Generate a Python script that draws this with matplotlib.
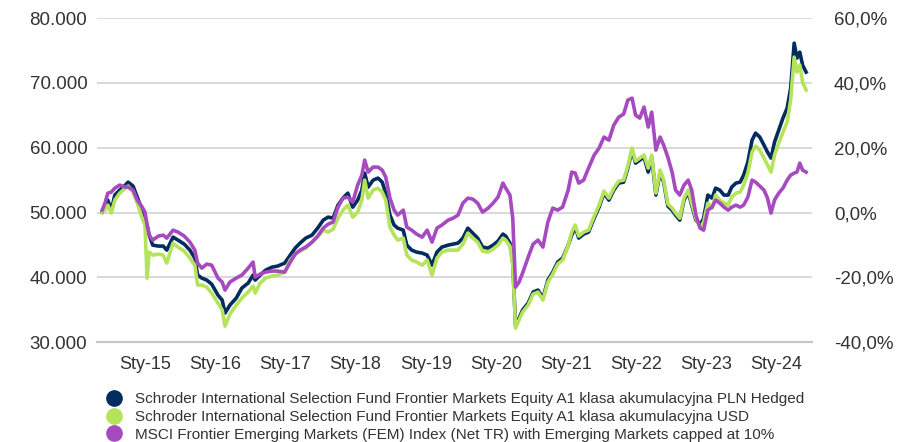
#!/usr/bin/env python3
# -*- coding: utf-8 -*-

import matplotlib
matplotlib.use("Agg")
import matplotlib.pyplot as plt
from matplotlib.lines import Line2D
from matplotlib.ticker import FuncFormatter

plt.rcParams["font.family"] = ["Liberation Sans", "DejaVu Sans"]

# Czas w latach dziesiętnych
years = [
    2014.39, 2014.43, 2014.47, 2014.52, 2014.57, 2014.64, 2014.72, 2014.76, 2014.83, 2014.89,
    2014.96, 2015.00, 2015.03, 2015.06, 2015.11, 2015.19, 2015.26, 2015.31, 2015.40, 2015.47,
    2015.56, 2015.64, 2015.71, 2015.75, 2015.81, 2015.88, 2015.95, 2016.04, 2016.10, 2016.14,
    2016.21, 2016.30, 2016.38, 2016.47, 2016.54, 2016.57, 2016.64, 2016.72, 2016.81, 2016.89,
    2016.99, 2017.07, 2017.14, 2017.21, 2017.29, 2017.38, 2017.46, 2017.54, 2017.61, 2017.68,
    2017.75, 2017.82, 2017.89, 2017.96, 2018.03, 2018.09, 2018.13, 2018.18, 2018.25, 2018.32,
    2018.38, 2018.43, 2018.49, 2018.55, 2018.60, 2018.68, 2018.73, 2018.80, 2018.87, 2018.95,
    2019.02, 2019.09, 2019.16, 2019.23, 2019.32, 2019.39, 2019.46, 2019.53, 2019.60, 2019.67,
    2019.74, 2019.81, 2019.89, 2019.96, 2020.03, 2020.10, 2020.14, 2020.20, 2020.24, 2020.28,
    2020.33, 2020.38, 2020.46, 2020.53, 2020.60, 2020.67, 2020.74, 2020.81, 2020.88, 2020.95,
    2021.03, 2021.08, 2021.13, 2021.18, 2021.25, 2021.32, 2021.40, 2021.47, 2021.54, 2021.61,
    2021.68, 2021.75, 2021.82, 2021.88, 2021.94, 2021.99, 2022.05, 2022.11, 2022.17, 2022.22,
    2022.28, 2022.34, 2022.39, 2022.45, 2022.51, 2022.56, 2022.62, 2022.68, 2022.74, 2022.79,
    2022.85, 2022.91, 2022.96, 2023.02, 2023.08, 2023.13, 2023.19, 2023.25, 2023.31, 2023.36,
    2023.42, 2023.48, 2023.53, 2023.59, 2023.65, 2023.70, 2023.76, 2023.82, 2023.87, 2023.92,
    2023.97, 2024.03, 2024.09, 2024.15, 2024.20, 2024.25, 2024.29, 2024.33, 2024.37, 2024.42,
]

fund_pln_hedged = [
    50060, 50830, 51910, 50370, 52690, 53460, 54230, 54690, 54080, 52380,
    50370, 49130, 48060, 46510, 44970, 44820, 44820, 44200, 46200, 45740,
    45120, 44200, 42960, 40340, 39880, 39570, 38950, 37250, 36480, 34480,
    35710, 36790, 38340, 39110, 40340, 39570, 40340, 41110, 41570, 41730,
    42190, 43430, 44510, 45280, 46050, 46510, 47590, 48830, 49290, 49130,
    51140, 52220, 52990, 50830, 51910, 53460, 56080, 53920, 55000, 55310,
    54690, 52990, 49600, 48060, 47590, 47280, 44970, 44200, 43890, 43730,
    43430, 41880, 43890, 44660, 44970, 45120, 45280, 46050, 47590, 46820,
    46050, 44660, 44510, 44970, 45590, 46670, 46360, 45280, 42350, 32470,
    33710, 34940, 36020, 37720, 38030, 36790, 39570, 40800, 42350, 42960,
    44970, 46510, 47750, 46050, 46670, 46980, 49130, 50830, 52990, 51910,
    53460, 54540, 54690, 56850, 59630, 57620, 58090, 58550, 56240, 58550,
    52690, 56240, 54690, 50990, 50370, 49600, 48830, 51910, 53150, 51140,
    48830, 48060, 49130, 52690, 52220, 53760, 53460, 52690, 52690, 53920,
    54540, 54690, 55770, 57780, 61170, 62250, 61640, 60400, 59320, 58400,
    60870, 62720, 64570, 66110, 69200, 76140, 73830, 74750, 72750, 71670,
]

fund_usd = [
    50060, 50370, 51140, 49910, 51910, 52990, 53760, 54080, 53150, 51450,
    49130, 48060, 39880, 43890, 43430, 43580, 43430, 42190, 45280, 44660,
    44040, 42960, 41880, 38800, 38800, 38490, 37560, 36020, 34940, 32470,
    34320, 35710, 36790, 37720, 38640, 37560, 39110, 39880, 40190, 40340,
    40800, 42660, 43580, 44040, 44510, 45430, 46200, 47280, 46980, 47440,
    49130, 50370, 51140, 49290, 50060, 51910, 55000, 52220, 53460, 53760,
    53150, 51910, 47750, 46510, 45740, 46050, 43430, 42660, 42350, 41880,
    42660, 40340, 42960, 43890, 44200, 44200, 44200, 45120, 46820, 46050,
    45430, 44040, 43890, 44350, 44970, 46050, 45740, 44820, 41880, 32160,
    33400, 34630, 35710, 37410, 37720, 36480, 39260, 40490, 42040, 42660,
    44970, 46980, 48060, 46360, 46980, 47280, 49440, 51140, 53300, 52220,
    53760, 54850, 55000, 57160, 59940, 57930, 58400, 58860, 56850, 58860,
    52990, 56540, 55000, 51300, 50680, 49910, 49130, 52220, 53460, 51450,
    49130, 47590, 48520, 51450, 50680, 52690, 51910, 51450, 51140, 52380,
    52990, 53150, 54230, 56080, 59320, 60250, 59630, 58400, 57310, 56240,
    58860, 60710, 62410, 63950, 67350, 73980, 71670, 72750, 70120, 68890,
]

msci_fem = [
    50370, 51450, 52990, 53150, 53760, 54230, 53920, 53920, 53460, 51910,
    50830, 50060, 48060, 46510, 45740, 46360, 46510, 46050, 47280, 46980,
    46360, 45430, 44200, 42190, 41420, 42040, 41880, 39880, 39260, 38030,
    39260, 39880, 40340, 41420, 42350, 40030, 40490, 40800, 40960, 40960,
    40800, 42350, 43580, 44200, 44660, 45430, 46360, 47590, 48210, 48520,
    50830, 52220, 52380, 51600, 54230, 55770, 58090, 56240, 57010, 57010,
    56540, 55460, 52220, 50370, 49600, 50370, 47750, 47280, 46670, 46200,
    47280, 45430, 47590, 48060, 48830, 49130, 49600, 51450, 52220, 52070,
    51450, 50060, 50680, 51450, 52380, 54540, 53760, 52690, 49130, 38490,
    39260, 40650, 43120, 45120, 45740, 44660, 48520, 50680, 50370, 50830,
    53460, 56240, 56080, 54540, 55000, 56850, 58860, 59940, 61640, 61170,
    63490, 64720, 65190, 67350, 67650, 65030, 64570, 66270, 63180, 65490,
    59630, 61640, 60400, 58550, 56240, 53460, 52690, 54230, 55000, 53460,
    49600, 47590, 47280, 50370, 50830, 51910, 51450, 50830, 50370, 50830,
    51140, 50830, 51140, 52380, 55000, 54690, 54080, 53460, 52220, 49910,
    51910, 52990, 53760, 55000, 55770, 56080, 56240, 57620, 56540, 56240,
]

series_labels = [
    "Schroder International Selection Fund Frontier Markets Equity A1 klasa akumulacyjna PLN Hedged",
    "Schroder International Selection Fund Frontier Markets Equity A1 klasa akumulacyjna USD",
    "MSCI Frontier Emerging Markets (FEM) Index (Net TR) with Emerging Markets capped at 10%",
]
series_colors = ["#022c60", "#b6e35c", "#a54bbf"]

tick_years = [2015, 2016, 2017, 2018, 2019, 2020, 2021, 2022, 2023, 2024]
tick_labels = ["Sty-15", "Sty-16", "Sty-17", "Sty-18", "Sty-19",
               "Sty-20", "Sty-21", "Sty-22", "Sty-23", "Sty-24"]

START_VALUE = 50000
TEXT_COLOR = "#333333"
GRID_COLOR = "#d9d9d9"


def main():
    fig = plt.figure(figsize=(8.98, 4.42), dpi=100)
    ax = fig.add_axes([0.108, 0.226, 0.796, 0.733])

    for values, color in zip([fund_pln_hedged, fund_usd, msci_fem], series_colors):
        ax.plot(years, values, color=color, linewidth=2.6, solid_joinstyle="round")

    ax.set_xlim(2014.316, 2024.501)
    ax.set_ylim(30000, 80000)
    ax.set_yticks(range(30000, 80001, 10000))
    ax.yaxis.set_major_formatter(FuncFormatter(lambda v, _: f"{int(v):,}".replace(",", ".")))
    ax.set_xticks(tick_years)
    ax.set_xticklabels(tick_labels)

    ax.grid(axis="y", color=GRID_COLOR, linewidth=1.4)
    ax.set_axisbelow(True)
    for side in ["top", "left", "right"]:
        ax.spines[side].set_visible(False)
    ax.spines["bottom"].set_color("#c8c8c8")
    ax.spines["bottom"].set_linewidth(1.6)
    ax.tick_params(axis="both", length=0, labelsize=13.5, colors=TEXT_COLOR)
    ax.tick_params(axis="x", pad=10, labelsize=13)
    ax.tick_params(axis="y", pad=7)

    # prawa oś: zmiana procentowa względem wartości początkowej
    ax2 = ax.twinx()
    ax2.set_ylim((30000 / START_VALUE - 1) * 100, (80000 / START_VALUE - 1) * 100)
    ax2.set_yticks(range(-40, 61, 20))
    ax2.yaxis.set_major_formatter(FuncFormatter(lambda v, _: f"{v:.1f}%".replace(".", ",")))
    ax2.tick_params(axis="y", length=0, labelsize=13.5, colors=TEXT_COLOR, pad=16)
    for side in ["top", "left", "right", "bottom"]:
        ax2.spines[side].set_visible(False)

    handles = [Line2D([], [], linestyle="none", marker="o", markersize=11,
                      markerfacecolor=c, markeredgecolor=c) for c in series_colors]
    fig.legend(handles, series_labels, loc="upper left", bbox_to_anchor=(0.12, 0.112),
               frameon=False, fontsize=11, labelcolor=TEXT_COLOR, handlelength=0.8,
               handletextpad=1.0, labelspacing=0.24, borderpad=0, borderaxespad=0)

    fig.savefig("out.png", dpi=100)
    plt.close(fig)


if __name__ == "__main__":
    main()
